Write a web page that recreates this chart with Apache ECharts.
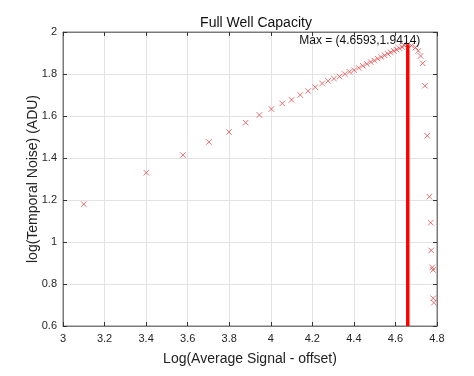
<!DOCTYPE html>
<html lang="en">
<head>
    <meta charset="UTF-8">
    <title>Full Well Capacity</title>
    <script src="https://cdn.jsdelivr.net/npm/echarts@6/dist/echarts.min.js"></script>
</head>
<body style="margin:0">
    <div id="chart1" style="width:474px;height:376px;"></div>
    <script>
        var myCharts=echarts.init(document.getElementById("chart1"))
        // log10 of mean signal
        var signalLog=[3.100,3.401,3.577,3.702,3.799,3.879,3.945,4.003,4.055,4.100,
            4.142,4.180,4.214,4.247,4.276,4.304,4.331,4.356,4.379,4.401,
            4.423,4.443,4.462,4.481,4.498,4.515,4.532,4.548,4.563,4.577,
            4.592,4.605,4.619,4.632,4.644,4.6593,4.677,4.696,4.710,4.721,
            4.731,4.742,4.753,4.763,4.770,4.772,4.777,4.781,4.782,4.785]
        // log10 of temporal noise
        var noiseLog=[1.180,1.330,1.414,1.476,1.524,1.568,1.605,1.633,1.660,1.677,
            1.700,1.719,1.737,1.755,1.767,1.778,1.788,1.800,1.810,1.818,
            1.829,1.839,1.848,1.857,1.864,1.873,1.881,1.889,1.896,1.903,
            1.910,1.916,1.923,1.929,1.935,1.9414,1.935,1.926,1.910,1.886,
            1.851,1.744,1.506,1.216,1.092,0.960,0.879,0.867,0.732,0.711]
        var maxPoint=[4.6593,1.9414]
        var xTicks={min:3,max:4.8,interval:0.2}
        var yTicks={min:0.6,max:2,interval:0.2}

        var font="Liberation Sans"
        var axisCol="#7a7a7a"
        function axis(base,extra){
            return Object.assign({
                type:"value",
                min:base.min,max:base.max,interval:base.interval,
                axisLine:{show:true,onZero:false,lineStyle:{color:axisCol,width:1}},
                axisTick:{show:true,inside:true,length:4,lineStyle:{color:"#333"}},
                splitLine:{show:false},
                axisLabel:{show:false}
            },extra)
        }
        var points=signalLog.map(function(v,i){return [v,noiseLog[i]]})

        var option={
            animation:false,
            textStyle:{fontFamily:font},
            title:{
                text:"Full Well Capacity",
                left:251,top:11,textAlign:"center",
                textStyle:{fontFamily:font,fontSize:14,fontWeight:"normal",color:"#111"}
            },
            grid:{left:63,right:37,top:32,bottom:50,show:true,borderColor:axisCol,borderWidth:1},
            xAxis:[
                axis(xTicks,{
                    position:"bottom",
                    name:"Log(Average Signal - offset)",
                    nameLocation:"middle",nameGap:26,nameMoveOverlap:false,
                    nameTextStyle:{fontFamily:font,fontSize:14,color:"#222"},
                    splitLine:{show:true,lineStyle:{color:"#e3e3e3"}},
                    axisLabel:{show:true,fontFamily:font,fontSize:11,color:"#262626",margin:7,
                        formatter:function(v){return +v.toFixed(1)}}
                }),
                axis(xTicks,{position:"top"})
            ],
            yAxis:[
                axis(yTicks,{
                    position:"left",
                    name:"log(Temporal Noise) (ADU)",
                    nameLocation:"middle",nameGap:23,nameMoveOverlap:false,
                    nameTextStyle:{fontFamily:font,fontSize:14,color:"#222"},
                    splitLine:{show:true,lineStyle:{color:"#e3e3e3"}},
                    axisLabel:{show:true,fontFamily:font,fontSize:11,color:"#262626",margin:6,
                        formatter:function(v){return +v.toFixed(1)}}
                }),
                axis(yTicks,{position:"right"})
            ],
            series:[
                {
                    type:"line",
                    data:[[maxPoint[0],yTicks.min],maxPoint],
                    symbol:"none",
                    lineStyle:{color:"#ff0000",width:3.5},
                    z:3
                },
                {
                    type:"scatter",
                    data:points,
                    symbol:"path://M0,0L10,10M10,0L0,10",
                    symbolSize:5.5,
                    itemStyle:{color:"rgba(0,0,0,0)",borderColor:"#e23b3b",borderWidth:0.9},
                    z:4,
                    markPoint:{
                        symbolSize:0,
                        data:[{coord:maxPoint}],
                        label:{
                            show:true,
                            formatter:"Max = ("+maxPoint[0]+","+maxPoint[1]+")",
                            fontFamily:font,fontSize:12,color:"#111",
                            offset:[-48,-4]
                        }
                    }
                }
            ]
        }
        myCharts.setOption(option)
    </script>
</body>
</html>
